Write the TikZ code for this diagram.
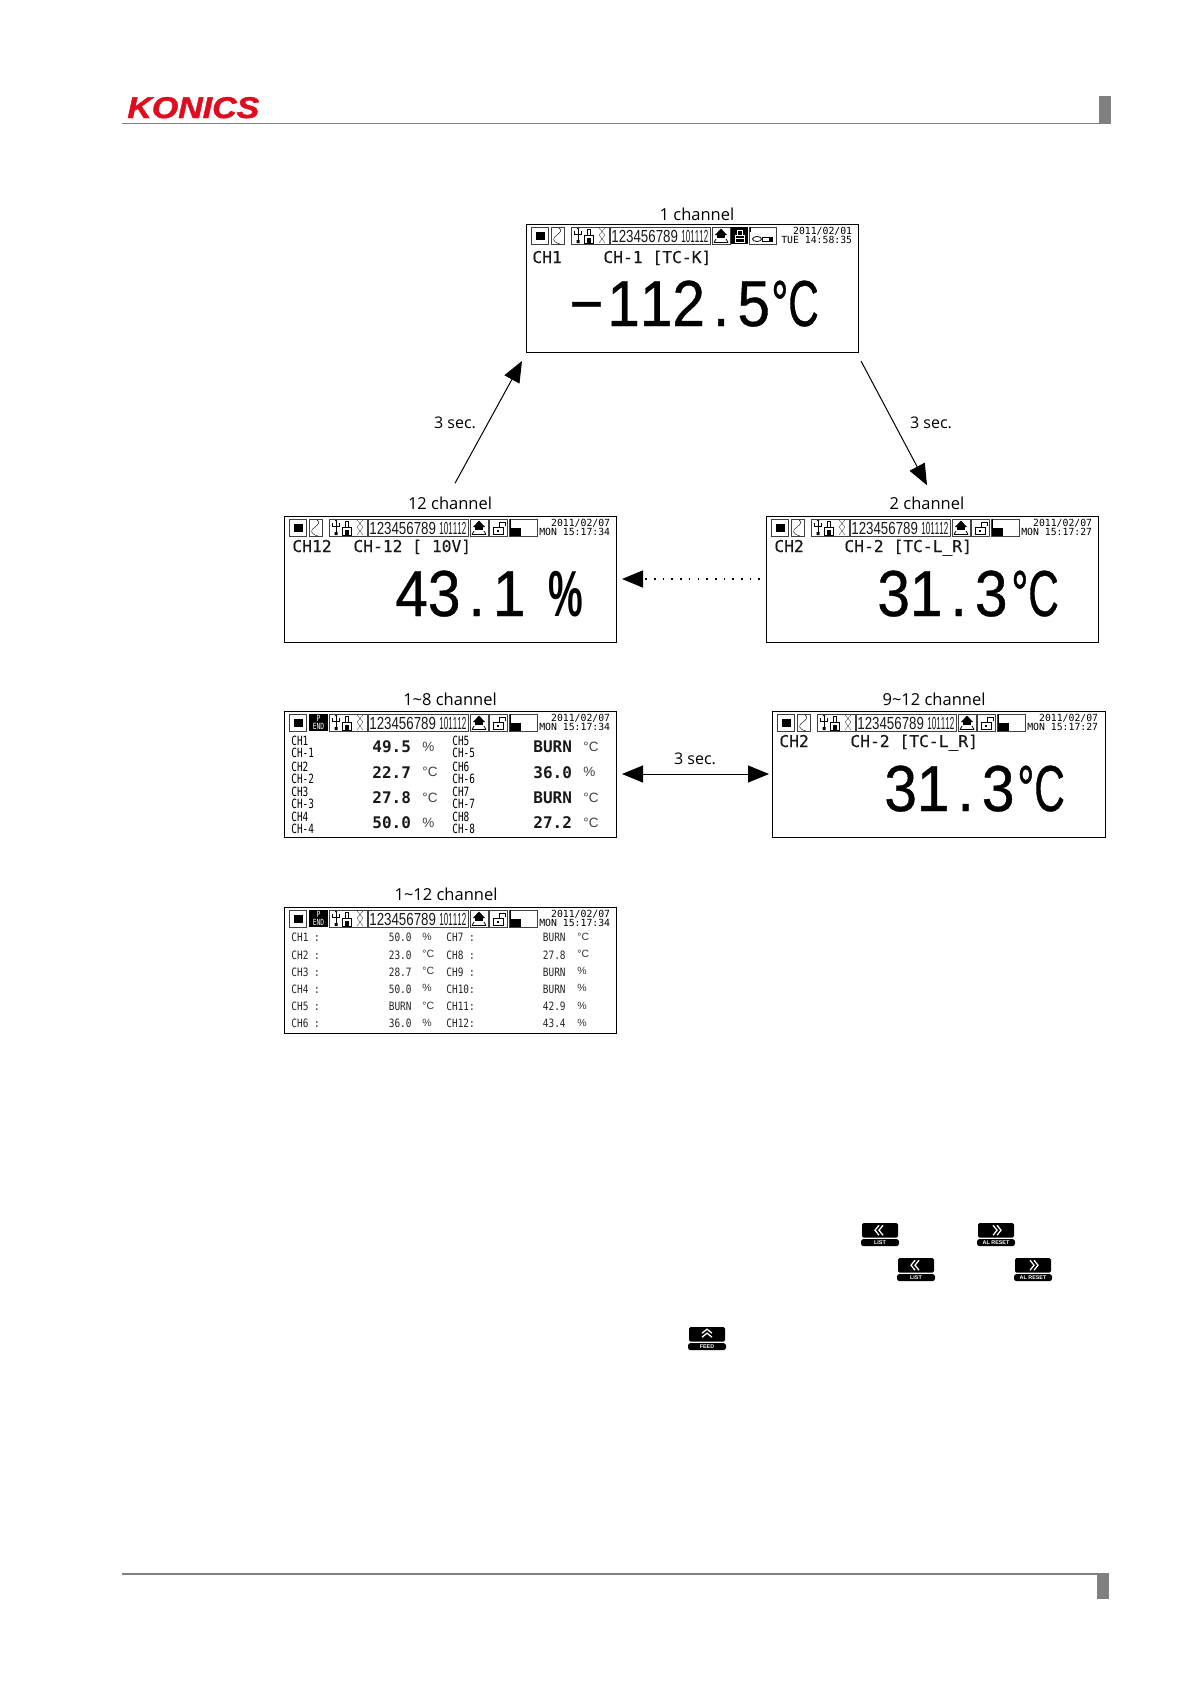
\documentclass[tikz,border=0pt]{standalone}
\usepackage{fontspec}
\usetikzlibrary{arrows.meta}
\setmainfont{Open Sans}
\newfontfamily\lcdfont{DejaVu Sans Mono}
\newfontfamily\lcdmid[FakeBold=.35]{DejaVu Sans Mono}
\newfontfamily\lcdthin[FakeStretch=.74]{DejaVu Sans Mono}
\newfontfamily\lcdnarrow[FakeStretch=.82]{DejaVu Sans Mono}
\newfontfamily\bigfont[FakeStretch=.9, Kerning=Off, FakeBold=.6]{Liberation Sans}
\newfontfamily\unitfont[FakeStretch=.65, Kerning=Off, FakeBold=.6]{Liberation Sans}
\newfontfamily\pctfont[FakeStretch=.6, Kerning=Off]{Liberation Sans}
\newfontfamily\numfont[FakeStretch=.76, Kerning=Off]{Liberation Sans}
\newfontfamily\numtight[FakeStretch=.46, Kerning=Off]{Liberation Sans}
\newfontfamily\keyfont{Liberation Sans}
\newfontfamily\logofont[FakeStretch=1.13, FakeBold=1.5]{Liberation Sans}
\newcommand{\fs}[1]{\fontsize{#1}{#1}\selectfont}
\newcommand{\bigdot}{\makebox[32.5pt]{.}}

% ---- pezzi comuni della barra di stato --------------------------------------
\newcommand{\statusicons}{%
  \draw[icobox] (5,3) rectangle (22,20);
  \fill (10,8) rectangle (19,16);
  \draw[icobox] (45,3) rectangle (83,20);
  \draw[thin] (52,5) -- (52,17) (48.5,7) -- (48.5,10) -- (55.5,10) -- (55.5,7);
  \fill (50.5,16) rectangle (53.5,19) (50.5,5) -- (53.5,5) -- (52,3.8) -- cycle;
  \draw[thin] (58.5,11) rectangle (67.5,19) (61.5,11) -- (61.5,5) -- (64.5,5) -- (64.5,11);
  \fill (61,14) rectangle (65,19);
  \draw[very thin] (73,4) -- (79,11) (79,4) -- (73,11) (73,11) -- (79,19) (79,11) -- (73,19);
  \draw[icobox] (84,3) rectangle (184,20);
  \node[numtxt, font=\numfont\fs{17.5}] (nums) at (85,18) {123456789};
  \node[numtxt, font=\numtight\fs{17.5}] (numsb) at (155,18) {101112};
  \draw[icobox] (186,3) rectangle (204,20);
  \fill (195,4.5) -- (201,11) -- (189,11) -- cycle;
  \fill (191,11) rectangle (199,14);
  \draw (188,18.5) -- (202,18.5) (190,15) -- (188,18.5) (200,15) -- (202,18.5);
}
\newcommand{\boxcurve}{%
  \draw[icobox] (25,3) rectangle (38,20);
  \draw[thin] (33,4) .. controls (36,6) and (35,8) .. (31,11) .. controls (26,14) and (26,18) .. (34,20);
}
\newcommand{\boxpend}{%
  \fill (25,3) rectangle (43.5,20);
  \node[pendtxt] (pp) at (34.5,7.5) {P};
  \node[pendtxt] (pend) at (34.5,15) {END};
}
\newcommand{\lockopen}{%
  \draw[icobox] (205,3) rectangle (223,20);
  \draw[thick] (209,11) rectangle (219,18.5);
  \draw[thick] (215,11) -- (215,6) -- (221,6) -- (221,10);
  \fill (213,14) rectangle (215,16);
}
\newcommand{\lockshut}{%
  \fill (205,3) rectangle (222,20);
  \draw[white, thick] (209,11) rectangle (218,18);
  \draw[white, thick] (211,11) -- (211,6.5) -- (216,6.5) -- (216,11);
  \draw[white] (209,14.5) -- (218,14.5);
}
\newcommand{\batbar}{%
  \draw[icobox] (225,3) rectangle (253,20);
  \fill (226,12) rectangle (237,19.5);
  \draw (226,3) -- (226,12);
}
\newcommand{\cablebox}{%
  \draw[icobox] (223,3) rectangle (250,20);
  \draw (224,3) -- (224,8);
  \draw (231,15) ellipse (4.5 and 2.5);
  \draw (236,13) rectangle (246,17.5);
  \fill (243,14) rectangle (246,16.5);
}
\newcommand{\datebox}[2]{%
  \node[datetxt] (dday) at (326.5,10.5) {#1};
  \node[datetxt] (dtime) at (326.5,19.3) {#2};
}
\newcommand{\keybtn}[5]{%
  \begin{scope}[shift={(#1,#2)}]
    \fill[rounded corners=1.5pt] (0,0) rectangle (36,14.5);
    \begin{scope}[shift={(18,7.2)}, rotate=#4]
      \draw[white, line width=1.3pt] (-3,-5) -- (1,0) -- (-3,5) (1,-5) -- (5,0) -- (1,5);
    \end{scope}
    \node[keytag] (#5) at (18,19.6) {#3};
  \end{scope}
}

\begin{document}
\begin{tikzpicture}[
    x=1pt, y=-1pt,
    line width=0.8pt,
    screen/.style={draw=black, line width=1pt, anchor=north west, inner sep=0pt, outer sep=0pt,
                   minimum width=332pt, minimum height=126pt},
    title/.style={font=\fs{16.5}, inner sep=0pt},
    secs/.style={font=\fs{16}, inner sep=0pt},
    icobox/.style={draw=black!75, line width=0.9pt},
    numtxt/.style={inner sep=0pt, anchor=base west, text=black!90},
    pendtxt/.style={text=white, font=\lcdthin\fs{8.5}, inner sep=0pt},
    datetxt/.style={font=\lcdfont\fs{9.8}, anchor=base east, inner sep=0pt},
    chtxt/.style={font=\lcdmid\fs{16.3}, anchor=base west, inner sep=0pt, text=black!90},
    bigfig/.style={font=\bigfont\fs{65}, anchor=base west, inner sep=0pt},
    bigunit/.style={font=\unitfont\fs{65}, anchor=base west, inner sep=0pt},
    thintxt/.style={font=\lcdthin\fs{12.7}, anchor=west, inner sep=0pt},
    valtxt/.style={font=\lcdfont\bfseries\fs{16}, anchor=west, inner sep=0pt, text=black!90},
    unittxt/.style={font=\keyfont\fs{13.5}, anchor=west, inner sep=0pt, text=black!75},
    rowtxt/.style={font=\lcdnarrow\fs{11.5}, anchor=west, inner sep=0pt, text=black!85},
    rowval/.style={font=\lcdnarrow\fs{11.5}, anchor=east, inner sep=0pt, text=black!85},
    rowunit/.style={font=\keyfont\fs{10.5}, anchor=west, inner sep=0pt, text=black!80},
    keytag/.style={fill=black, text=white, rounded corners=2.5pt, font=\keyfont\bfseries\fs{5.4},
                   minimum width=38pt, minimum height=7pt, inner sep=0pt},
    conn/.style={black, line width=1pt, -{Triangle[length=21pt, width=17pt]}},
  ]
  \path[use as bounding box, fill=white] (0,0) rectangle (1191,1684);

  % ---- intestazione e piede ---------------------------------------------------
  \draw[black!50, line width=1.2pt] (122,123.5) -- (1111,123.5);
  \fill[black!50] (1099,96) rectangle (1111,123);
  \node[font=\logofont\bfseries\itshape\fs{30}, text={rgb,255:red,222;green,12;blue,30}, inner sep=0pt, anchor=base west]
    (logo) at (127,118) {KONICS};
  \draw[black!50, line width=1.2pt] (122,1574) -- (1109,1574);
  \fill[black!50] (1097,1574) rectangle (1109,1599);

  % ---- i sei schermi ----------------------------------------------------------
  \node[screen, minimum height=128pt] (ch1) at (526,224) {};
  \node[screen] (ch12) at (284,516) {};
  \node[screen] (ch2)  at (766,516) {};
  \node[screen] (ch18) at (284,711) {};
  \node[screen, minimum width=333pt] (ch9)  at (772,711) {};
  \node[screen] (chall) at (284,907) {};

  \node[title] (tch1)  at (697,214) {1 channel};
  \node[title] (tch12) at (450,503) {12 channel};
  \node[title] (tch2)  at (927,503) {2 channel};
  \node[title] (tch18) at (450,699) {1\textasciitilde 8 channel};
  \node[title] (tch9)  at (934,699) {9\textasciitilde 12 channel};
  \node[title] (tchall) at (446,894) {1\textasciitilde 12 channel};

  % ---- 1 channel
  \begin{scope}[shift={(526,224)}, name prefix=a-]
    \statusicons \boxcurve \lockshut \cablebox
    \datebox{2011/02/01}{TUE 14:58:35}
    \node[chtxt] (cn) at (6,39) {CH1};
    \node[chtxt] (cl) at (77,39) {CH-1 [TC-K]};
    \node[bigfig] (val) at (43,102) {\makebox[38pt][l]{−}112\bigdot 5};
    \node[bigunit] (unit) at (245,102) {°C};
  \end{scope}

  % ---- 12 channel
  \begin{scope}[shift={(284,516)}, name prefix=b-]
    \statusicons \boxcurve \lockopen \batbar
    \datebox{2011/02/07}{MON 15:17:34}
    \node[chtxt] (cn) at (8,36) {CH12};
    \node[chtxt] (cl) at (69,36) {CH-12 [ 10V]};
    \node[bigfig] (val) at (111,100) {43\bigdot 1};
    \node[font=\pctfont\bfseries\fs{65}, anchor=base west, inner sep=0pt] (unit) at (264,100) {\%};
  \end{scope}

  % ---- 2 channel
  \begin{scope}[shift={(766,516)}, name prefix=c-]
    \statusicons \boxcurve \lockopen \batbar
    \datebox{2011/02/07}{MON 15:17:27}
    \node[chtxt] (cn) at (8,36) {CH2};
    \node[chtxt] (cl) at (78,36) {CH-2 [TC-L\_R]};
    \node[bigfig] (val) at (111,100) {31\bigdot 3};
    \node[bigunit] (unit) at (245,100) {°C};
  \end{scope}

  % ---- 9~12 channel
  \begin{scope}[shift={(772,711)}, name prefix=d-]
    \statusicons \boxcurve \lockopen \batbar
    \datebox{2011/02/07}{MON 15:17:27}
    \node[chtxt] (cn) at (7,36) {CH2};
    \node[chtxt] (cl) at (78,36) {CH-2 [TC-L\_R]};
    \node[bigfig] (val) at (112,100) {31\bigdot 3};
    \node[bigunit] (unit) at (245,100) {°C};
  \end{scope}

  % ---- 1~8 channel
  \begin{scope}[shift={(284,711)}, name prefix=e-]
    \statusicons \boxpend \lockopen \batbar
    \datebox{2011/02/07}{MON 15:17:34}
    \foreach \i/\val/\uu in {1/49.5/\%, 2/22.7/°C, 3/27.8/°C, 4/50.0/\%} {
      \node[thintxt] (na\i) at (7,{30.3+(\i-1)*25.3}) {CH\i};
      \node[thintxt] (nb\i) at (7,{42.3+(\i-1)*25.3}) {CH-\i};
      \node[valtxt]  (va\i) at (88,{36+(\i-1)*25.3}) {\val};
      \node[unittxt] (ua\i) at (138,{36+(\i-1)*25.3}) {\uu};
    }
    \foreach \i/\val/\uu in {5/BURN/°C, 6/36.0/\%, 7/BURN/°C, 8/27.2/°C} {
      \node[thintxt] (na\i) at (168,{30.3+(\i-5)*25.3}) {CH\i};
      \node[thintxt] (nb\i) at (168,{42.3+(\i-5)*25.3}) {CH-\i};
      \node[valtxt]  (va\i) at (249,{36+(\i-5)*25.3}) {\val};
      \node[unittxt] (ua\i) at (299,{36+(\i-5)*25.3}) {\uu};
    }
  \end{scope}

  % ---- 1~12 channel
  \begin{scope}[shift={(284,907)}, name prefix=f-]
    \statusicons \boxpend \lockopen \batbar
    \datebox{2011/02/07}{MON 15:17:34}
    \foreach \i/\val/\uu in {1/50.0/\%, 2/23.0/°C, 3/28.7/°C, 4/50.0/\%, 5/BURN/°C, 6/36.0/\%} {
      \node[rowtxt]  (n\i) at (7,{30.7+(\i-1)*17.2}) {CH\i\ :};
      \node[rowval]  (v\i) at (128,{30.7+(\i-1)*17.2}) {\val};
      \node[rowunit] (u\i) at (138,{29.7+(\i-1)*17.2}) {\uu};
    }
    \foreach \i/\lab/\val/\uu in {7/CH7 :/BURN/°C, 8/CH8 :/27.8/°C, 9/CH9 :/BURN/\%, 10/CH10:/BURN/\%, 11/CH11:/42.9/\%, 12/CH12:/43.4/\%} {
      \node[rowtxt]  (n\i) at (162,{30.7+(\i-7)*17.2}) {\lab};
      \node[rowval]  (v\i) at (282,{30.7+(\i-7)*17.2}) {\val};
      \node[rowunit] (u\i) at (293,{29.7+(\i-7)*17.2}) {\uu};
    }
  \end{scope}

  % ---- le frecce ---------------------------------------------------------------
  \draw[conn] ([xshift=5pt,yshift=13pt]tch12.north) -- ([xshift=-4pt,yshift=-9pt]ch1.south west);
  \draw[conn] ([xshift=3pt,yshift=-9pt]ch1.south east) -- ([xshift=0pt,yshift=11pt]tch2.north);
  \draw[conn, line width=1.6pt, dash pattern=on 1.6pt off 7.1pt]
    ([xshift=-6pt]ch2.west) -- ([xshift=6pt]ch12.east);
  \draw[conn, {Triangle[length=21pt, width=17pt]}-{Triangle[length=21pt, width=17pt]}]
    ([xshift=6pt]ch18.east) -- ([xshift=-3pt]ch9.west);

  \node[secs] (s1) at (455,423) {3 sec.};
  \node[secs] (s2) at (931,423) {3 sec.};
  \node[secs] (s3) at (695,759) {3 sec.};

  % ---- i tasti -------------------------------------------------------------------
  \keybtn{862}{1223}{LIST}{180}{ka}
  \keybtn{978}{1223}{AL RESET}{0}{kb}
  \keybtn{898}{1258}{LIST}{180}{kc}
  \keybtn{1015}{1258}{AL RESET}{0}{kd}
  \keybtn{689}{1327}{FEED}{90}{ke}

\end{tikzpicture}
\end{document}
